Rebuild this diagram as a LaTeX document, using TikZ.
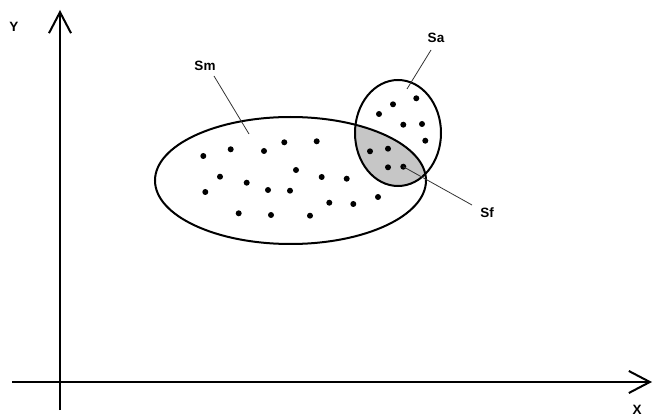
\documentclass[tikz,border=0pt]{standalone}
\usepackage{fontspec}
\setmainfont{Liberation Sans}
\usetikzlibrary{arrows.meta}
\begin{document}
\begin{tikzpicture}[x=1pt,y=-1pt,
  axis/.style={line width=2pt,-{Straight Barb[length=21pt,width=22pt,line width=2pt]}},
  setline/.style={line width=2pt},
  leader/.style={line width=0.8pt,black!80},
  dot/.style={circle,fill=black,inner sep=0pt,minimum size=6pt},
  lab/.style={font=\bfseries\fontsize{13.5}{15}\selectfont,inner sep=0pt}]
\useasboundingbox (0,0) rectangle (654,417);
% axes
\coordinate (yb) at (60,410);
\coordinate (yt) at (60,10);
\coordinate (xl) at (12,382);
\coordinate (xr) at (652,382);
\draw[axis] (yb) -- (yt);
\draw[axis] (xl) -- (xr);
\node[lab] (Y) at (14,27) {Y};
\node[lab] (X) at (637,410) {X};
% shaded intersection
\begin{scope}
\clip (290.5,180.5) ellipse [x radius=135.5pt, y radius=63.5pt];
\fill[gray!45] (398,133) ellipse [x radius=43pt, y radius=53pt];
\end{scope}
\draw[setline] (290.5,180.5) ellipse [x radius=135.5pt, y radius=63.5pt];
\draw[setline] (398,133) ellipse [x radius=43pt, y radius=53pt];
% dots
\foreach \p [count=\i] in {(203.3,156),(230.7,149.3),(264,151),(284.3,142.3),(316.7,141.3),
 (220,176.7),(246.7,182.7),(296,170),(321.7,177),(346.7,178.7),
 (205.3,192),(268,190),(290,190.7),(329.3,202.7),(353.3,204),(378,197),
 (238.7,213.3),(271,215),(310,215.7),
 (370,151.3),(388,148.7),(388,167.3),
 (393,104.3),(416.3,98.3),(379,114),(403.3,124.7),(422,124),(425.3,140.7)}
 \node[dot] (d\i) at \p {};
\node[dot] (dsf) at (403.3,166.7) {};
% labels
\node[lab] (Sm) at (205,66) {Sm};
\node[lab] (Sa) at (436,38) {Sa};
\node[lab] (Sf) at (487,213) {Sf};
\coordinate (smend) at (249,134);
\coordinate (saend) at (407,89);
\draw[leader] (214,76) -- (smend);
\draw[leader] (431,50) -- (saend);
\draw[leader] (dsf.center) -- (472,205);
\end{tikzpicture}
\end{document}
